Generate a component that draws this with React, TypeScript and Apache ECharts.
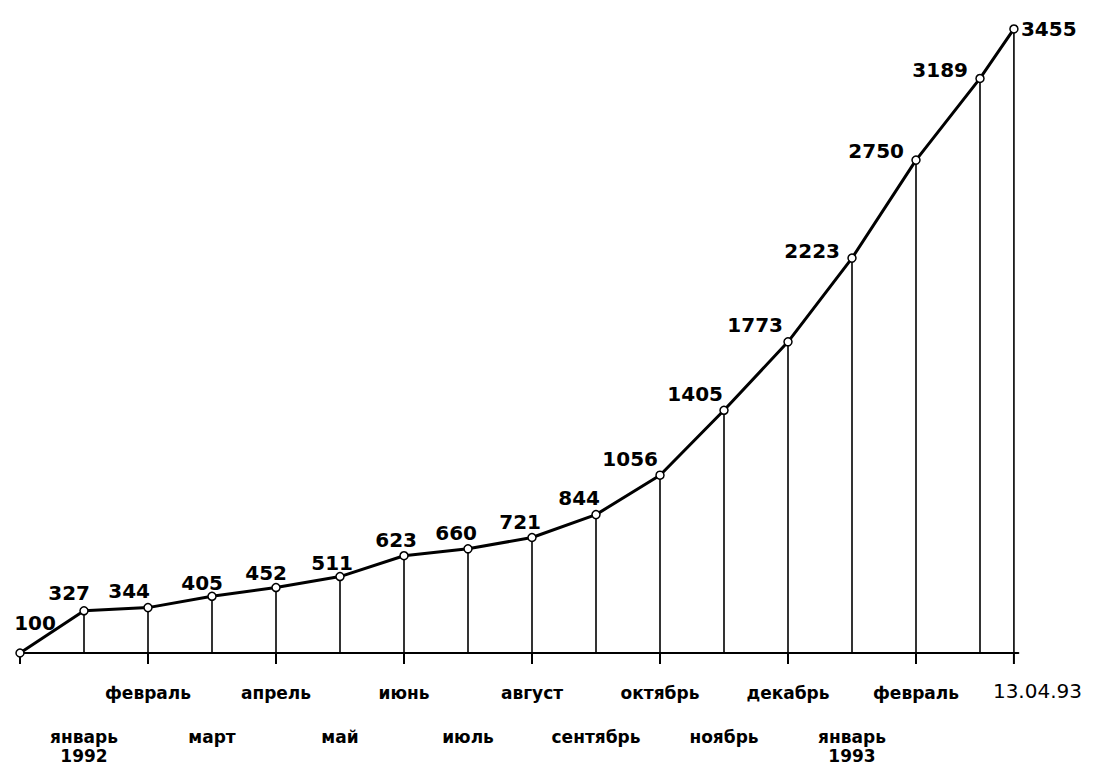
import React, { useEffect, useRef } from "react";
import * as echarts from "echarts";

// Month index (0 = start, 1 = январь 1992 ... 15 = март 1993, 15.53 = 13.04.93)
const pointPositions = [0, 1, 2, 3, 4, 5, 6, 7, 8, 9, 10, 11, 12, 13, 14, 15, 15.53];
const values = [100, 327, 344, 405, 452, 511, 623, 660, 721, 844, 1056, 1405, 1773, 2223, 2750, 3189, 3455];

const upperLabelPos = [2, 4, 6, 8, 10, 12, 14];
const upperLabels = ["февраль", "апрель", "июнь", "август", "октябрь", "декабрь", "февраль"];
const lowerLabelPos = [1, 3, 5, 7, 9, 11, 13];
const lowerLabels = ["январь\n1992", "март", "май", "июль", "сентябрь", "ноябрь", "январь\n1993"];
const tickPositions = [0, 2, 4, 6, 8, 10, 12, 14, 15.53];
const endLabelPos = 15.53;
const endLabel = "13.04.93";

// label placement style (align, verticalAlign, offset)
const LABEL_STYLE: [string, string, number, number][] = [
  ["center", "bottom", 15, -20],
  ["right", "bottom", 6, -8],
  ["right", "bottom", 2, -7],
  ["right", "bottom", 11, -3],
  ["right", "bottom", 11, -5],
  ["right", "bottom", 13, -4],
  ["right", "bottom", 13, -6],
  ["right", "bottom", 9, -6],
  ["right", "bottom", 9, -5],
  ["right", "bottom", 4, -7],
  ["right", "bottom", -2, -6],
  ["right", "bottom", -1, -6],
  ["right", "bottom", -5, -7],
  ["right", "bottom", -12, 3],
  ["right", "bottom", -12, 1],
  ["right", "bottom", -12, 2],
  ["left", "middle", 7, 0],
];

const findLabel = (pos: number[], labels: string[], v: number) => {
  const i = pos.findIndex((p) => Math.abs(p - v) < 0.01);
  return i >= 0 ? labels[i] : "";
};

export default function App() {
  const ref = useRef<HTMLDivElement>(null);
  useEffect(() => {
    if (!ref.current) return;
    const chart = echarts.init(ref.current, undefined, { renderer: "svg" });
    const xMin = 0;
    const xMax = 15.6;
    const catFont = {
      fontFamily: "DejaVu Sans",
      fontWeight: "bold" as const,
      fontSize: 17,
      color: "#000",
    };
    chart.setOption({
      animation: false,
      backgroundColor: "#fff",
      grid: { left: 20, right: 78.6, top: 20.6, bottom: 117, containLabel: false },
      xAxis: [
        {
          type: "value",
          min: xMin,
          max: xMax,
          position: "bottom",
          splitLine: { show: false },
          axisLine: { show: true, lineStyle: { color: "#000", width: 2 } },
          axisTick: { show: false },
          axisLabel: {
            show: true,
            customValues: upperLabelPos,
            margin: 31,
            lineHeight: 17,
            ...catFont,
            formatter: (v: number) => findLabel(upperLabelPos, upperLabels, v),
          },
        },
        {
          type: "value",
          min: xMin,
          max: xMax,
          position: "bottom",
          splitLine: { show: false },
          axisLine: { show: false },
          axisTick: { show: false },
          axisLabel: {
            show: true,
            customValues: lowerLabelPos,
            margin: 74,
            lineHeight: 19,
            ...catFont,
            formatter: (v: number) => findLabel(lowerLabelPos, lowerLabels, v),
          },
        },
      ],
      yAxis: {
        type: "value",
        min: 100,
        max: 3500,
        show: false,
        splitLine: { show: false },
      },
      series: [
        {
          type: "custom",
          xAxisIndex: 0,
          clip: false,
          data: pointPositions.map((p, i) => [p, values[i]]),
          renderItem: (params: any, api: any) => {
            const x = api.value(0);
            const y = api.value(1);
            const top = api.coord([x, y]);
            const bot = api.coord([x, 100]);
            return {
              type: "line",
              shape: { x1: top[0], y1: top[1], x2: bot[0], y2: bot[1] },
              style: { stroke: "#000", lineWidth: 1.6 },
            };
          },
          z: 1,
        },
        {
          type: "custom",
          xAxisIndex: 0,
          clip: false,
          data: tickPositions.map((p) => [p]),
          renderItem: (params: any, api: any) => {
            const x = api.value(0);
            const pt = api.coord([x, 100]);
            const children: any[] = [
              {
                type: "line",
                shape: { x1: pt[0], y1: pt[1], x2: pt[0], y2: pt[1] + 11 },
                style: { stroke: "#000", lineWidth: 2 },
              },
            ];
            if (Math.abs(x - endLabelPos) < 0.01) {
              children.push({
                type: "text",
                x: pt[0] - 21,
                y: pt[1] + 38,
                style: {
                  text: endLabel,
                  fill: "#000",
                  font: 'normal 20px "DejaVu Sans"',
                  textAlign: "left",
                  textVerticalAlign: "middle",
                },
              });
            }
            return { type: "group", children };
          },
          z: 2,
        },
        {
          type: "line",
          xAxisIndex: 0,
          clip: false,
          z: 3,
          symbol: "circle",
          symbolSize: 8,
          lineStyle: { color: "#000", width: 3 },
          itemStyle: { color: "#fff", borderColor: "#000", borderWidth: 1.5 },
          data: pointPositions.map((p, i) => {
            const [align, va, dx, dy] = LABEL_STYLE[i];
            return {
              value: [p, values[i]],
              label: {
                show: true,
                position: "inside",
                align,
                verticalAlign: va,
                offset: [dx, dy],
                formatter: String(values[i]),
                fontFamily: "DejaVu Sans",
                fontWeight: "bold",
                fontSize: 20,
                color: "#000",
              },
            };
          }),
        },
      ],
    });
    return () => chart.dispose();
  }, []);
  return (
    <div
      ref={ref}
      style={{ position: "fixed", left: 0, top: 0, width: 1097, height: 770, background: "#fff" }}
    />
  );
}
